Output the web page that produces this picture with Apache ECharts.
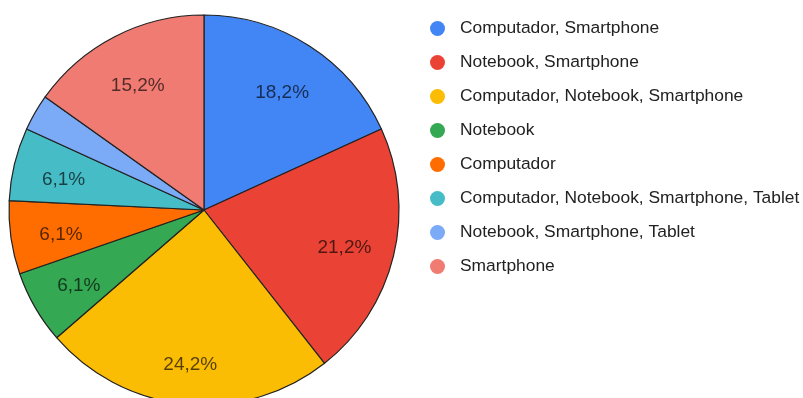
<!DOCTYPE html>
<html>
<head>
<meta charset="utf-8">
<script src="https://cdn.jsdelivr.net/npm/echarts@6/dist/echarts.min.js"></script>
<style>
  html, body { margin: 0; padding: 0; background: #fff; }
  #chart { width: 803px; height: 398px; }
</style>
</head>
<body>
<div id="chart"></div>
<script>
// Device combinations used by respondents (response counts)
const categories = [
  'Computador, Smartphone',
  'Notebook, Smartphone',
  'Computador, Notebook, Smartphone',
  'Notebook',
  'Computador',
  'Computador, Notebook, Smartphone, Tablet',
  'Notebook, Smartphone, Tablet',
  'Smartphone'
];
const counts = [6, 7, 8, 2, 2, 2, 1, 5];
const palette = ['#4285F4', '#EA4335', '#FBBC04', '#34A853', '#FF6D01', '#46BDC6', '#7BAAF7', '#F07B72'];

const total = counts.reduce((a, b) => a + b, 0);
const FONT = '"Liberation Sans", Arial, sans-serif';
const CENTER = [204, 210];
const R = 195;

const sliceData = categories.map((name, i) => ({ name, value: counts[i] }));
// label layer: the bottom slice's label sits a little lower
const labelData = categories.map((name, i) => ({
  name,
  value: counts[i],
  label: i === 2 ? { offset: [0, 11] } : undefined
}));

const chart = echarts.init(document.getElementById('chart'), null, { renderer: 'canvas' });
chart.setOption({
  animation: false,
  color: palette,
  legend: {
    orient: 'vertical',
    left: 425,
    top: 15,
    icon: 'circle',
    itemWidth: 15,
    itemHeight: 15,
    itemGap: 17,
    itemStyle: { borderWidth: 0 },
    textStyle: { fontFamily: FONT, fontSize: 17.4, color: '#222', padding: [0, 0, 0, 10] },
    data: categories
  },
  series: [
    {
      // slices
      type: 'pie',
      center: CENTER,
      radius: R,
      startAngle: 90,
      clockwise: true,
      data: sliceData,
      label: { show: false },
      labelLine: { show: false },
      itemStyle: { borderColor: '#222', borderWidth: 1.2 },
      emphasis: { disabled: true }
    },
    {
      // percentage labels, placed further out along each slice
      type: 'pie',
      center: CENTER,
      radius: [88, R],
      startAngle: 90,
      clockwise: true,
      silent: true,
      minShowLabelAngle: 15,
      data: labelData,
      itemStyle: { color: 'rgba(0,0,0,0)', borderWidth: 0 },
      label: {
        show: true,
        position: 'inside',
        offset: [0, 4],
        fontFamily: FONT,
        fontSize: 19,
        color: 'rgba(0,0,0,0.66)',
        formatter: p => (p.value / total * 100).toFixed(1).replace('.', ',') + '%'
      },
      labelLine: { show: false },
      emphasis: { disabled: true }
    }
  ]
});
</script>
</body>
</html>
